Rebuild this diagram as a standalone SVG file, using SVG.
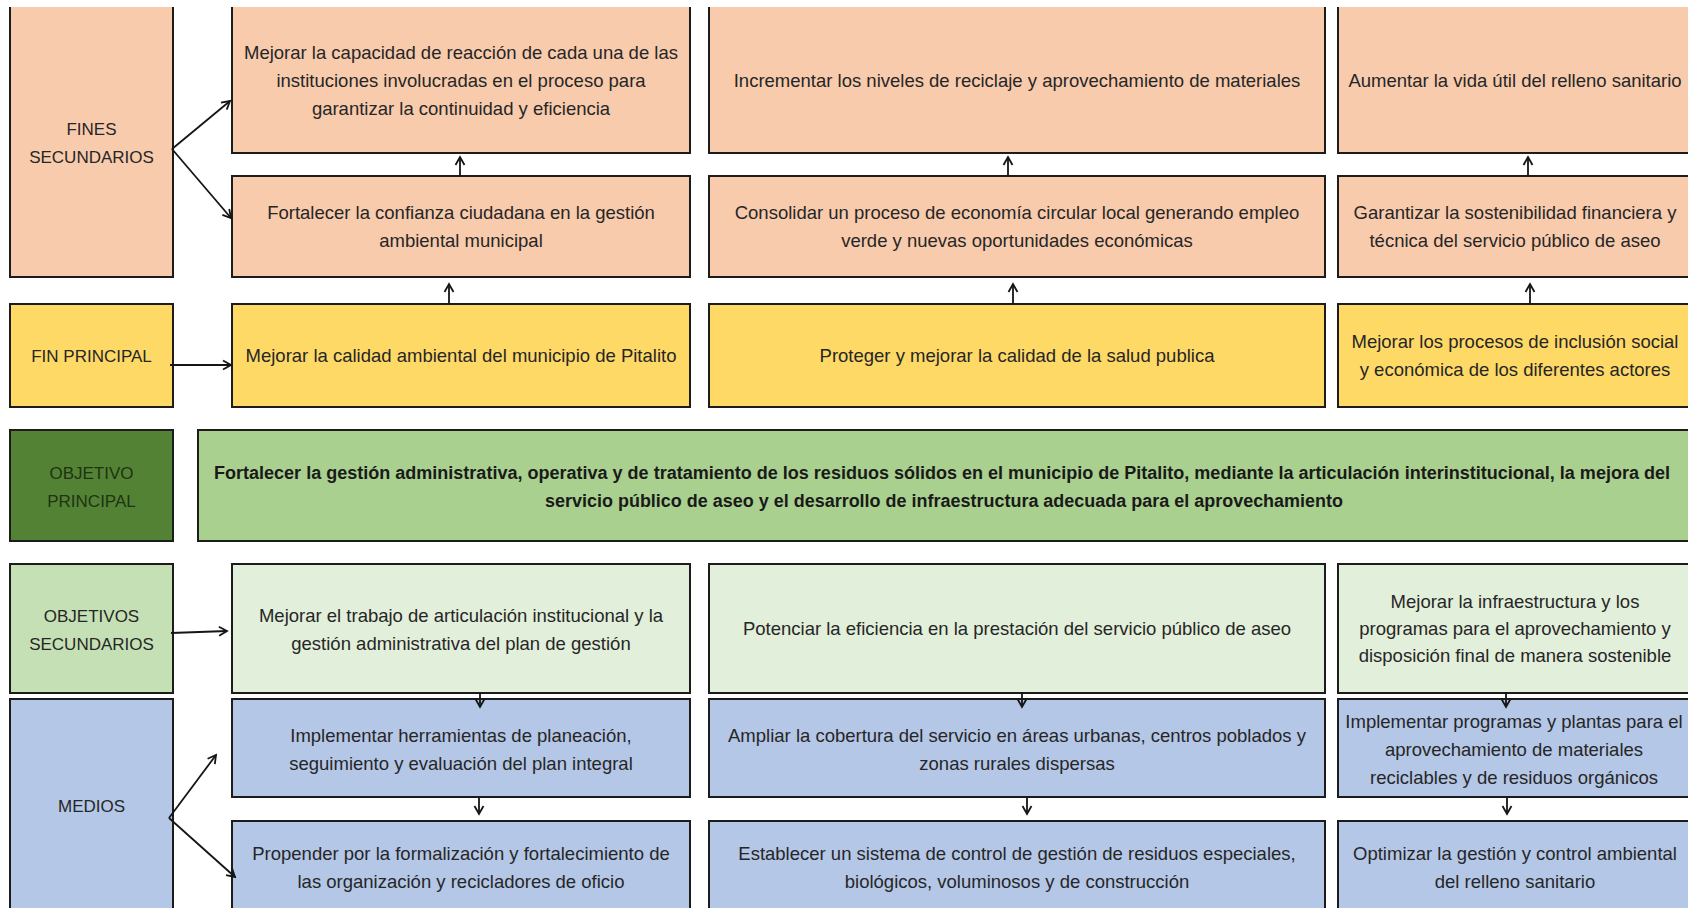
<svg xmlns="http://www.w3.org/2000/svg" width="1688" height="908" viewBox="0 0 1688 908">
<defs>
<style>
.t{font-family:"Liberation Sans",Arial,sans-serif;font-size:18.5px;fill:#262626;text-anchor:middle}
.lb{font-family:"Liberation Sans",Arial,sans-serif;font-size:17px;fill:#262626;text-anchor:middle}
.b{font-weight:bold;fill:#1a1a1a;font-size:18px}
.bx{stroke:#1c1c1c;stroke-width:2}
.nb{stroke:none}
.edge{fill:none;stroke:#1c1c1c;stroke-width:2}
.fs{fill:#F8CBAD}
.fp{fill:#FFD966}
.og{fill:#548235}
.ob{fill:#A9D08E}
.osl{fill:#C5E0B4}
.os{fill:#E2EFDA}
.md{fill:#B4C7E7}
.c{fill:none;stroke:#151515;stroke-width:1.8;marker-end:url(#ah)}
</style>
<marker id="ah" markerUnits="userSpaceOnUse" markerWidth="12" markerHeight="12" refX="10" refY="6" orient="auto">
<path d="M2,1.5 L10,6 L2,10.5" fill="none" stroke="#151515" stroke-width="1.8"/>
</marker>
</defs>
<rect width="1688" height="908" fill="#ffffff"/>

<!-- Labels -->
<g id="lbl-fines-sec">
<rect x="10" y="7" width="163" height="270" class="fs nb"/>
<path d="M10,7 V277 H173 V7" class="edge"/>
<text class="lb" x="91.5" y="135">FINES</text>
<text class="lb" x="91.5" y="163">SECUNDARIOS</text>
</g>
<g id="lbl-fin-principal">
<rect x="10" y="304" width="163" height="103" class="fp bx"/>
<text class="lb" x="91.5" y="362">FIN PRINCIPAL</text>
</g>
<g id="lbl-obj-principal">
<rect x="10" y="430" width="163" height="111" class="og bx"/>
<text class="lb" x="91.5" y="479" style="fill:#1e3312">OBJETIVO</text>
<text class="lb" x="91.5" y="507" style="fill:#1e3312">PRINCIPAL</text>
</g>
<g id="lbl-obj-sec">
<rect x="10" y="564" width="163" height="129" class="osl bx"/>
<text class="lb" x="91.5" y="622">OBJETIVOS</text>
<text class="lb" x="91.5" y="650">SECUNDARIOS</text>
</g>
<g id="lbl-medios">
<rect x="10" y="699" width="163" height="220" class="md bx"/>
<text class="lb" x="91.5" y="812">MEDIOS</text>
</g>

<!-- Row 1: Fines secundarios (top) -->
<g id="fs1-c1">
<rect x="232" y="7" width="458" height="146" class="fs nb"/>
<path d="M232,7 V153 H690 V7" class="edge"/>
<text class="t" x="461" y="58.5">Mejorar la capacidad de reacción de cada una de las</text>
<text class="t" x="461" y="86.5">instituciones involucradas en el proceso para</text>
<text class="t" x="461" y="114.5">garantizar la continuidad y eficiencia</text>
</g>
<g id="fs1-c2">
<rect x="709" y="7" width="616" height="146" class="fs nb"/>
<path d="M709,7 V153 H1325 V7" class="edge"/>
<text class="t" x="1017" y="86.5">Incrementar los niveles de reciclaje y aprovechamiento de materiales</text>
</g>
<g id="fs1-c3">
<rect x="1338" y="7" width="356" height="146" class="fs nb"/>
<path d="M1338,7 V153 H1694" class="edge"/>
<text class="t" x="1515" y="86.5">Aumentar la vida útil del relleno sanitario</text>
</g>

<!-- Row 2: Fines secundarios (second) -->
<g id="fs2-c1">
<rect x="232" y="176" width="458" height="101" class="fs bx"/>
<text class="t" x="461" y="219">Fortalecer la confianza ciudadana en la gestión</text>
<text class="t" x="461" y="247">ambiental municipal</text>
</g>
<g id="fs2-c2">
<rect x="709" y="176" width="616" height="101" class="fs bx"/>
<text class="t" x="1017" y="219">Consolidar un proceso de economía circular local generando empleo</text>
<text class="t" x="1017" y="247">verde y nuevas oportunidades económicas</text>
</g>
<g id="fs2-c3">
<rect x="1338" y="176" width="356" height="101" class="fs bx"/>
<text class="t" x="1515" y="219">Garantizar la sostenibilidad financiera y</text>
<text class="t" x="1515" y="247">técnica del servicio público de aseo</text>
</g>

<!-- Row 3: Fin principal -->
<g id="fp-c1">
<rect x="232" y="304" width="458" height="103" class="fp bx"/>
<text class="t" x="461" y="362">Mejorar la calidad ambiental del municipio de Pitalito</text>
</g>
<g id="fp-c2">
<rect x="709" y="304" width="616" height="103" class="fp bx"/>
<text class="t" x="1017" y="362">Proteger y mejorar la calidad de la salud publica</text>
</g>
<g id="fp-c3">
<rect x="1338" y="304" width="356" height="103" class="fp bx"/>
<text class="t" x="1515" y="348">Mejorar los procesos de inclusión social</text>
<text class="t" x="1515" y="376">y económica de los diferentes actores</text>
</g>

<!-- Objetivo principal -->
<g id="obj-principal">
<rect x="198" y="430" width="1496" height="111" class="ob bx"/>
<text class="t b" x="942" y="479" textLength="1456" lengthAdjust="spacingAndGlyphs">Fortalecer la gestión administrativa, operativa y de tratamiento de los residuos sólidos en el municipio de Pitalito, mediante la articulación interinstitucional, la mejora del</text>
<text class="t b" x="944" y="507" textLength="798" lengthAdjust="spacingAndGlyphs">servicio público de aseo y el desarrollo de infraestructura adecuada para el aprovechamiento</text>
</g>

<!-- Objetivos secundarios -->
<g id="os-c1">
<rect x="232" y="564" width="458" height="129" class="os bx"/>
<text class="t" x="461" y="622">Mejorar el trabajo de articulación institucional y la</text>
<text class="t" x="461" y="650">gestión administrativa del plan de gestión</text>
</g>
<g id="os-c2">
<rect x="709" y="564" width="616" height="129" class="os bx"/>
<text class="t" x="1017" y="635">Potenciar la eficiencia en la prestación del servicio público de aseo</text>
</g>
<g id="os-c3">
<rect x="1338" y="564" width="356" height="129" class="os bx"/>
<text class="t" x="1515" y="608">Mejorar la infraestructura y los</text>
<text class="t" x="1515" y="635">programas para el aprovechamiento y</text>
<text class="t" x="1515" y="662">disposición final de manera sostenible</text>
</g>

<!-- Medios row 1 -->
<g id="md1-c1">
<rect x="232" y="699" width="458" height="98" class="md bx"/>
<text class="t" x="461" y="742">Implementar herramientas de planeación,</text>
<text class="t" x="461" y="770">seguimiento y evaluación del plan integral</text>
</g>
<g id="md1-c2">
<rect x="709" y="699" width="616" height="98" class="md bx"/>
<text class="t" x="1017" y="742">Ampliar la cobertura del servicio en áreas urbanas, centros poblados y</text>
<text class="t" x="1017" y="770">zonas rurales dispersas</text>
</g>
<g id="md1-c3">
<rect x="1338" y="699" width="356" height="98" class="md bx"/>
<text class="t" x="1514" y="728">Implementar programas y plantas para el</text>
<text class="t" x="1514" y="756">aprovechamiento de materiales</text>
<text class="t" x="1514" y="784">reciclables y de residuos orgánicos</text>
</g>

<!-- Medios row 2 -->
<g id="md2-c1">
<rect x="232" y="821" width="458" height="100" class="md bx"/>
<text class="t" x="461" y="860">Propender por la formalización y fortalecimiento de</text>
<text class="t" x="461" y="888">las organización y recicladores de oficio</text>
</g>
<g id="md2-c2">
<rect x="709" y="821" width="616" height="100" class="md bx"/>
<text class="t" x="1017" y="860">Establecer un sistema de control de gestión de residuos especiales,</text>
<text class="t" x="1017" y="888">biológicos, voluminosos y de construcción</text>
</g>
<g id="md2-c3">
<rect x="1338" y="821" width="356" height="100" class="md bx"/>
<text class="t" x="1515" y="860">Optimizar la gestión y control ambiental</text>
<text class="t" x="1515" y="888">del relleno sanitario</text>
</g>

<!-- Connectors -->
<g id="connectors">
<line class="c" x1="172" y1="149" x2="230" y2="101"/>
<line class="c" x1="172" y1="149" x2="231" y2="218"/>
<line class="c" x1="170" y1="365" x2="231" y2="365"/>
<line class="c" x1="460" y1="176" x2="460" y2="157"/>
<line class="c" x1="449" y1="304" x2="449" y2="284"/>
<line class="c" x1="1008" y1="176" x2="1008" y2="157"/>
<line class="c" x1="1013" y1="304" x2="1013" y2="284"/>
<line class="c" x1="1528" y1="176" x2="1528" y2="157"/>
<line class="c" x1="1530" y1="304" x2="1530" y2="284"/>
<line class="c" x1="171" y1="633" x2="227" y2="631"/>
<line class="c" x1="169" y1="818" x2="216" y2="755"/>
<line class="c" x1="169" y1="818" x2="235" y2="877"/>
<line class="c" x1="480" y1="692" x2="480" y2="707"/>
<line class="c" x1="1022" y1="692" x2="1022" y2="707"/>
<line class="c" x1="1506" y1="692" x2="1506" y2="707"/>
<line class="c" x1="479" y1="798" x2="479" y2="814"/>
<line class="c" x1="1027" y1="798" x2="1027" y2="814"/>
<line class="c" x1="1507" y1="798" x2="1507" y2="814"/>
</g>
</svg>
